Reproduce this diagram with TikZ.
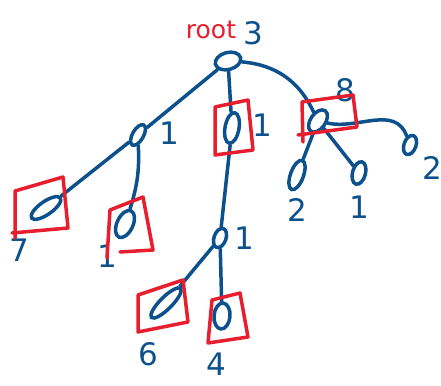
\documentclass[tikz,border=0pt]{standalone}
\usepackage{fontspec}
\setmainfont{DejaVu Sans}
\usetikzlibrary{shapes.geometric}
\definecolor{inkblue}{RGB}{12,80,140}
\definecolor{inkred}{RGB}{230,30,45}
\begin{document}
\begin{tikzpicture}[x=1pt,y=1pt,
  oval/.style={ellipse,draw=inkblue,line width=3.5pt,inner sep=0pt},
  edge/.style={draw=inkblue,line width=3.5pt,line cap=round},
  redbox/.style={draw=inkred,line width=3.5pt,line join=round,line cap=round},
  lab/.style={text=inkblue,font=\fontsize{31}{31}\selectfont,inner sep=0pt},
  rlab/.style={text=inkred,font=\fontsize{25}{25}\selectfont,inner sep=0pt}]
\useasboundingbox (0,0) rectangle (441,-385);
% nodes
\node[oval,minimum width=26pt,minimum height=17pt,rotate=15] (root) at (228,-61) {};
\node[oval,minimum width=11pt,minimum height=23pt,rotate=-30] (A) at (138,-135) {};
\node[oval,minimum width=14pt,minimum height=31pt,rotate=-10] (B) at (232,-128) {};
\node[oval,minimum width=15pt,minimum height=25pt,rotate=-35] (C) at (318,-121) {};
\node[oval,minimum width=13pt,minimum height=31pt,rotate=-20] (D) at (297,-175) {};
\node[oval,minimum width=13pt,minimum height=23pt,rotate=-15] (E) at (359,-173) {};
\node[oval,minimum width=12pt,minimum height=20pt,rotate=-20] (F) at (410,-145) {};
\node[oval,minimum width=13pt,minimum height=35pt,rotate=-55] (G) at (46,-208) {};
\node[oval,minimum width=16pt,minimum height=29pt,rotate=-25] (H) at (125,-224) {};
\node[oval,minimum width=12pt,minimum height=20pt,rotate=-20] (I) at (220,-238) {};
\node[oval,minimum width=12pt,minimum height=41pt,rotate=-45] (J) at (166,-303) {};
\node[oval,minimum width=16pt,minimum height=26pt,rotate=-5] (K) at (222,-316) {};
% labels
\node[rlab] (lroot) at (211,-30) {root};
\node[lab] (l3) at (253,-33) {3};
\node[lab] (lA) at (169,-133) {1};
\node[lab] (lB) at (262,-125) {1};
\node[lab] (lC) at (345,-90) {8};
\node[lab] (lD) at (297,-210) {2};
\node[lab] (lE) at (359,-207) {1};
\node[lab] (lF) at (432,-168) {2};
\node[lab] (lG) at (19,-250) {7};
\node[lab] (lH) at (107,-256) {1};
\node[lab] (lI) at (244,-238) {1};
\node[lab] (lJ) at (148,-354) {6};
\node[lab] (lK) at (216,-364) {4};
% edges
\draw[edge] (root) -- (A);
\draw[edge] (root) -- (B);
\draw[edge] (root) to[bend left=30] (C);
\draw[edge] (A) -- (G);
\draw[edge] (A) to[bend left=10] (H);
\draw[edge] (B) -- (I);
\draw[edge] (I) -- (J);
\draw[edge] (I) -- (K);
\draw[edge] (C) -- (D);
\draw[edge] (C) -- (E);
\draw[edge] (C) to[out=-5,in=115] (F);
% red boxes
\draw[redbox] (215,-107) -- (248,-100) -- (253,-150) -- (215,-155) -- cycle;
\draw[redbox] (303,-142) -- (302,-102) -- (353,-95) -- (357,-127) -- (298,-135);
\draw[redbox] (15,-238) -- (15,-191) -- (63,-177) -- (68,-228) -- (12,-233);
\draw[redbox] (143,-197) -- (153,-250) -- (120,-252);
\draw[redbox] (107,-258) -- (110,-210) -- (143,-197);
\draw[redbox] (138,-295) -- (183,-280) -- (188,-322) -- (138,-332) -- cycle;
\draw[redbox] (212,-300) -- (240,-293) -- (248,-337) -- (208,-343) -- cycle;
\end{tikzpicture}
\end{document}
